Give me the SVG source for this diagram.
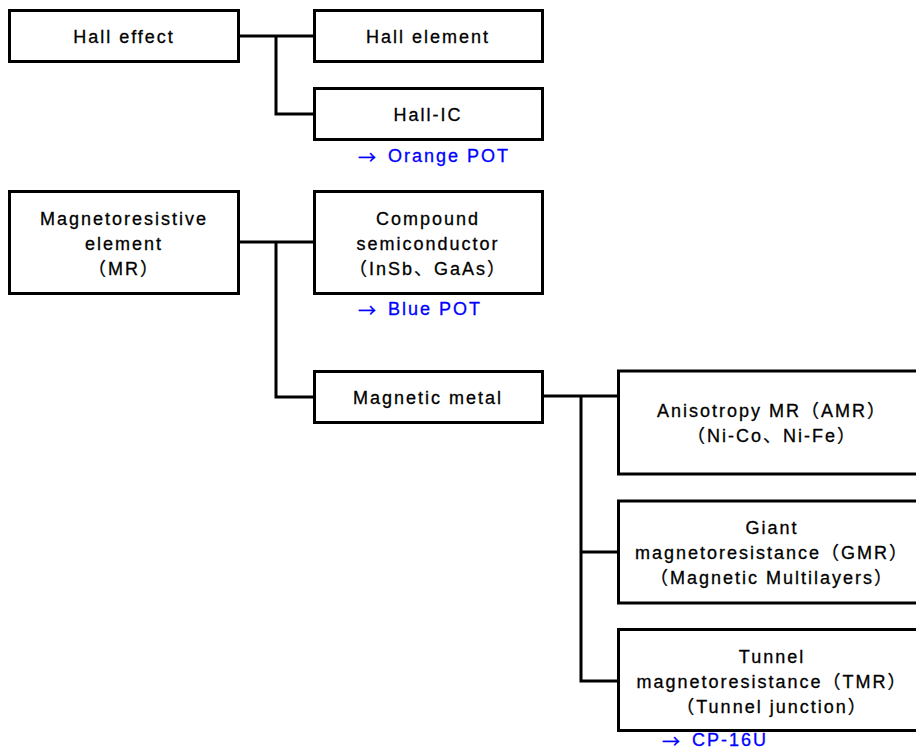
<svg xmlns="http://www.w3.org/2000/svg" width="916" height="753" viewBox="0 0 916 753">
<style>
.box{fill:#fff;stroke:#000;stroke-width:3}
.lbl{font-family:"Liberation Sans","Noto Sans CJK JP",sans-serif;font-size:18px;letter-spacing:2px;fill:#000;text-anchor:middle;dominant-baseline:central;stroke:#000;stroke-width:0.3}
.note{font-family:"Liberation Sans","Noto Sans CJK JP",sans-serif;font-size:18px;letter-spacing:2px;fill:#0000ff;dominant-baseline:central;stroke:#0000ff;stroke-width:0.3}
.arr{font-family:"Noto Sans CJK JP",sans-serif;letter-spacing:0}
.con{fill:none;stroke:#000;stroke-width:3}
</style>
<rect width="916" height="753" fill="#fff"/>
<g id="connectors">
<path class="con" d="M239,36H314M276,36V114H314"/>
<path class="con" d="M239,242H314M276,242V397H314"/>
<path class="con" d="M542,396H618M581,396V681H618M581,552H618"/>
</g>
<g id="hall-effect"><rect class="box" x="9.5" y="10.5" width="229" height="51"/><text class="lbl" x="124" y="37">Hall effect</text></g>
<g id="hall-element"><rect class="box" x="314.5" y="10.5" width="228" height="51"/><text class="lbl" x="428" y="37">Hall element</text></g>
<g id="hall-ic"><rect class="box" x="314.5" y="88.5" width="228" height="51"/><text class="lbl" x="428" y="115">Hall-IC</text>
<text class="note" x="358" y="156"><tspan class="arr">→</tspan><tspan dx="5"> Orange POT</tspan></text></g>
<g id="mr"><rect class="box" x="9.5" y="191.5" width="229" height="102"/>
<text class="lbl" x="124" y="219">Magnetoresistive</text><text class="lbl" x="124" y="244">element</text><text class="lbl" x="124" y="269">（MR）</text></g>
<g id="compound"><rect class="box" x="314.5" y="191.5" width="228" height="102"/>
<text class="lbl" x="428" y="219">Compound</text><text class="lbl" x="428" y="244">semiconductor</text><text class="lbl" x="428" y="269">（InSb、GaAs）</text>
<text class="note" x="358" y="309"><tspan class="arr">→</tspan><tspan dx="5"> Blue POT</tspan></text></g>
<g id="magnetic-metal"><rect class="box" x="314.5" y="371.5" width="228" height="51"/><text class="lbl" x="428" y="398">Magnetic metal</text></g>
<g id="amr"><rect class="box" x="618.5" y="371" width="310" height="103"/>
<text class="lbl" x="772" y="411">Anisotropy MR（AMR）</text><text class="lbl" x="772" y="436">（Ni-Co、Ni-Fe）</text></g>
<g id="gmr"><rect class="box" x="618.5" y="501" width="310" height="102"/>
<text class="lbl" x="772" y="528">Giant</text><text class="lbl" x="772" y="553">magnetoresistance（GMR）</text><text class="lbl" x="772" y="578">（Magnetic Multilayers）</text></g>
<g id="tmr"><rect class="box" x="618.5" y="629.5" width="310" height="101"/>
<text class="lbl" x="772" y="657">Tunnel</text><text class="lbl" x="772" y="682">magnetoresistance（TMR）</text><text class="lbl" x="772" y="707">（Tunnel junction）</text>
<text class="note" x="662" y="740"><tspan class="arr">→</tspan><tspan dx="5"> CP-16U</tspan></text></g>
</svg>
